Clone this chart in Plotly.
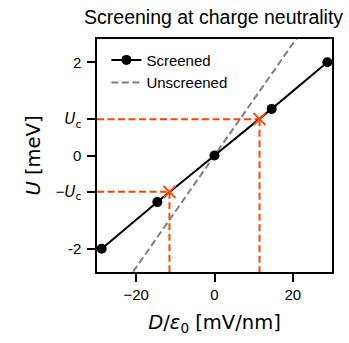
import plotly.graph_objects as go

# Screened response: electric field D/eps0 (mV/nm) vs interlayer potential U (meV)
d_screened = [-28.8, -14.6, 0.0, 14.6, 28.8]
u_screened = [-2.0, -1.0, 0.0, 1.0, 2.0]

# Unscreened reference line (endpoints)
d_unscreened = [-30.0, 30.0]
u_unscreened = [-3.6, 3.6]

# Critical potential and the fields at which it is reached
u_c = 0.78
d_cross = [-11.5, 11.5]
u_cross = [-u_c, u_c]

x_range = [-30, 30]
y_range = [-2.5, 2.5]

x_ticks = [-20, 0, 20]
x_ticktext = ["\u221220", "0", "20"]
y_ticks = [-2, -u_c, 0, u_c, 2]
UC = "<span style='font-family:DejaVu Sans'><i>U</i><sub>c</sub></span>"
y_ticktext = ["-2", "\u2212" + UC, "0", UC, "2"]

ACCENT = "#FF4500"
FONT = "Liberation Sans, Arial, sans-serif"
MATH = "DejaVu Sans, sans-serif"

fig = go.Figure()

# Guide lines from the axes to the critical points
for dc, uc in zip(d_cross, u_cross):
    fig.add_trace(go.Scatter(
        x=[x_range[0], dc], y=[uc, uc], mode="lines",
        line=dict(color=ACCENT, width=2, dash="7px,3.5px"),
        showlegend=False, hoverinfo="skip"))
    fig.add_trace(go.Scatter(
        x=[dc, dc], y=[uc, y_range[0]], mode="lines",
        line=dict(color=ACCENT, width=2, dash="7px,3.5px"),
        showlegend=False, hoverinfo="skip"))

fig.add_trace(go.Scatter(
    x=d_unscreened, y=u_unscreened, mode="lines", name="Unscreened",
    line=dict(color="#808080", width=2, dash="7px,3.5px")))

fig.add_trace(go.Scatter(
    x=d_screened, y=u_screened, mode="lines+markers", name="Screened",
    line=dict(color="black", width=2),
    marker=dict(color="black", size=10)))

fig.add_trace(go.Scatter(
    x=d_cross, y=u_cross, mode="markers", showlegend=False,
    marker=dict(symbol="x-thin", size=12, line=dict(color=ACCENT, width=2))))

axis_common = dict(
    showline=True, linecolor="black", linewidth=1.5, mirror=True,
    ticks="outside", ticklen=8, tickwidth=1.5, tickcolor="black",
    showgrid=False, zeroline=False,
    tickfont=dict(family=FONT, size=15, color="black"),
)

fig.update_layout(
    width=349, height=343,
    margin=dict(l=97, r=17, t=39, b=71),
    paper_bgcolor="white", plot_bgcolor="white",
    font=dict(family=FONT, color="black"),
    title=dict(text="Screening at charge neutrality", x=0.612, xanchor="center",
               y=0.95, yanchor="middle",
               font=dict(family=FONT, size=19.5, color="black")),
    xaxis=dict(range=x_range, tickvals=x_ticks, ticktext=x_ticktext,
               title=dict(text="<i>D</i>/<i>\u03b5</i><sub>0</sub> [mV/nm]",
                          font=dict(family=MATH, size=19.5), standoff=14),
               **axis_common),
    yaxis=dict(range=y_range, tickvals=y_ticks, ticktext=y_ticktext,
               ticklabelstandoff=3,
               title=dict(text="<i>U</i> [meV]",
                          font=dict(family=MATH, size=19.5), standoff=10),
               **axis_common),
    legend=dict(x=0.04, y=0.98, xanchor="left", yanchor="top",
                bgcolor="rgba(0,0,0,0)", traceorder="reversed",
                font=dict(family=FONT, size=15), itemwidth=30,
                tracegroupgap=0),
)

fig.write_html("out.html")
